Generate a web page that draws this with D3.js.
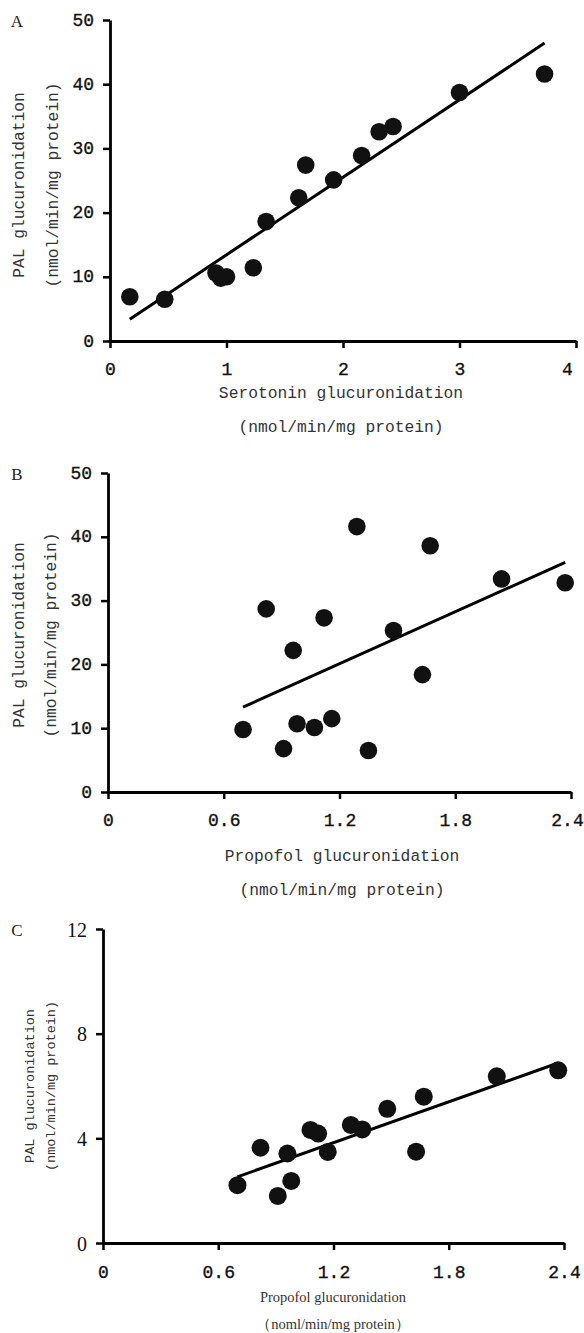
<!DOCTYPE html>
<html><head><meta charset="utf-8">
<script src="https://cdn.jsdelivr.net/npm/d3@7"></script>
<style>body{margin:0;background:#fff}svg{display:block}</style>
</head><body>
<svg id="chart" width="584" height="1333"></svg>
<script>
// ---- data ----
const serotoninA = [0.17,0.47,0.91,0.95,1.00,1.23,1.34,1.62,1.68,1.92,2.16,2.31,2.43,3.00,3.73];
const palA       = [6.9,6.5,10.6,9.8,10.0,11.4,18.6,22.3,27.4,25.1,28.9,32.6,33.4,38.7,41.6];
const fitAx = [0.17, 3.73];
const fitAy = [3.4, 46.4];

const propofolB = [0.70,0.82,0.91,0.96,0.98,1.07,1.12,1.16,1.29,1.35,1.48,1.63,1.67,2.04,2.37];
const palB      = [9.8,28.7,6.8,22.2,10.7,10.1,27.3,11.5,41.6,6.5,25.3,18.4,38.6,33.4,32.8];
const fitBx = [0.70, 2.37];
const fitBy = [13.3, 36.0];

const propofolC = [0.70,0.82,0.91,0.96,0.98,1.08,1.12,1.17,1.29,1.35,1.48,1.63,1.67,2.05,2.37];
const palC      = [2.21,3.64,1.80,3.42,2.37,4.32,4.18,3.48,4.51,4.34,5.13,3.49,5.59,6.37,6.60];
const fitCx = [0.70, 2.37];
const fitCy = [2.53, 6.88];

const ticksAx = [0,1,2,3,4];
const ticksAy = [0,10,20,30,40,50];
const ticksBx = [0,0.6,1.2,1.8,2.4];
const ticksBy = [0,10,20,30,40,50];
const ticksCx = [0,0.6,1.2,1.8,2.4];
const ticksCy = [0,4,8,12];

const panelLetters = ["A","B","C"];
const yTitle1 = "PAL glucuronidation";
const yTitle2 = "(nmol/min/mg protein)";
const xTitlesA = ["Serotonin glucuronidation","(nmol/min/mg protein)"];
const xTitlesB = ["Propofol glucuronidation","(nmol/min/mg protein)"];
const xTitlesC = ["Propofol glucuronidation","\uFF08noml/min/mg protein\uFF09"];

const MONO = "'Liberation Mono','DejaVu Sans Mono',monospace";
const SERIF = "'Liberation Serif','DejaVu Serif',serif";

const svg = d3.select("#chart");

function panel(o){
  const x = d3.scaleLinear().domain([o.xTicks[0], o.xTicks[o.xTicks.length-1]]).range([o.left, o.right]);
  const y = d3.scaleLinear().domain([o.yTicks[0], o.yTicks[o.yTicks.length-1]]).range([o.bottom, o.top]);
  const g = svg.append("g");

  const fmt = v => v === 0 ? "0" : d3.format(o.xFmt)(v);
  const xa = g.append("g").attr("transform",`translate(0,${o.bottom})`)
    .call(d3.axisBottom(x).tickValues(o.xTicks).tickSize(7).tickSizeOuter(0).tickFormat(fmt));
  const ya = g.append("g").attr("transform",`translate(${o.left},0)`)
    .call(d3.axisLeft(y).tickValues(o.yTicks).tickSize(7).tickSizeOuter(0));
  [xa,ya].forEach(a=>{
    a.selectAll("path.domain").attr("stroke","#000").attr("stroke-width",2.8);
    a.selectAll(".tick line").attr("stroke","#000").attr("stroke-width",2.5);
  });
  const nx = o.xTicks.length;
  xa.selectAll(".tick text").attr("font-family",MONO).attr("font-size",18).attr("fill","#111")
    .attr("stroke","#111").attr("stroke-width",0.35)
    .attr("dy",null).attr("y", o.xTickY - o.bottom).attr("dominant-baseline","central")
    .attr("x",(d,i)=> (i===nx-1 && x(d)+18>584) ? 584-x(d)-17 : 0);
  ya.selectAll(".tick text").attr("font-family",o.yTickFont).attr("font-size",o.yTickSize).attr("fill","#111")
    .attr("stroke","#111").attr("stroke-width",o.yTickFont===MONO?0.35:0)
    .attr("x",-16).attr("dy",null).attr("dominant-baseline","central");

  const line = d3.line().x(d=>x(d[0])).y(d=>y(d[1]));
  g.append("path").datum(o.fitX.map((v,i)=>[v,o.fitY[i]]))
    .attr("d",line).attr("stroke","#000").attr("stroke-width",3).attr("fill","none");

  g.selectAll("circle.pt").data(o.xs.map((v,i)=>[v,o.ys[i]])).enter().append("circle")
    .attr("class","pt").attr("cx",d=>x(d[0])).attr("cy",d=>y(d[1])).attr("r",o.r).attr("fill","#111");

  g.append("text").attr("x",17).attr("y",o.top+1).attr("text-anchor","middle").attr("dominant-baseline","central")
    .attr("font-family",SERIF).attr("font-size",17).attr("fill","#222").text(o.letter);

  const cy = o.yTitleCy;
  [[o.yT1x,yTitle1],[o.yT2x,yTitle2]].forEach(([tx,t])=>{
    g.append("text").attr("transform",`translate(${tx},${cy}) rotate(-90)`)
      .attr("text-anchor","middle").attr("dominant-baseline","central")
      .attr("font-family",MONO).attr("font-size",o.yTitleSize).attr("fill","#333").text(t);
  });

  o.xTitles.forEach((t,i)=>{
    g.append("text").attr("x",o.xTitleCx).attr("y",o.xTitleY[i]).attr("text-anchor","middle")
      .attr("dominant-baseline","central").attr("font-family",o.xTitleFont).attr("font-size",o.xTitleSize)
      .attr("fill","#333").text(t);
  });
}

panel({letter:panelLetters[0], xs:serotoninA, ys:palA, fitX:fitAx, fitY:fitAy,
  xTicks:ticksAx, yTicks:ticksAy, xFmt:"d", r:8.8,
  left:110, right:576, top:20, bottom:341,
  xTickY:370, yTickFont:MONO, yTickSize:18,
  yT1x:19, yT2x:53, yTitleCy:185, yTitleSize:16.3,
  xTitles:xTitlesA, xTitleY:[393,427], xTitleCx:341, xTitleFont:MONO, xTitleSize:16.3});

panel({letter:panelLetters[1], xs:propofolB, ys:palB, fitX:fitBx, fitY:fitBy,
  xTicks:ticksBx, yTicks:ticksBy, xFmt:".1f", r:8.8,
  left:108, right:571, top:473, bottom:792,
  xTickY:821, yTickFont:MONO, yTickSize:18,
  yT1x:19, yT2x:51, yTitleCy:635, yTitleSize:16.3,
  xTitles:xTitlesB, xTitleY:[856,890], xTitleCx:342, xTitleFont:MONO, xTitleSize:16.3});

panel({letter:panelLetters[2], xs:propofolC, ys:palC, fitX:fitCx, fitY:fitCy,
  xTicks:ticksCx, yTicks:ticksCy, xFmt:".1f", r:9,
  left:103, right:564, top:929, bottom:1243,
  xTickY:1273, yTickFont:SERIF, yTickSize:20,
  yT1x:30, yT2x:51, yTitleCy:1086, yTitleSize:13.5,
  xTitles:xTitlesC, xTitleY:[1297,1324], xTitleCx:333, xTitleFont:SERIF, xTitleSize:14.5});
</script>
</body></html>
